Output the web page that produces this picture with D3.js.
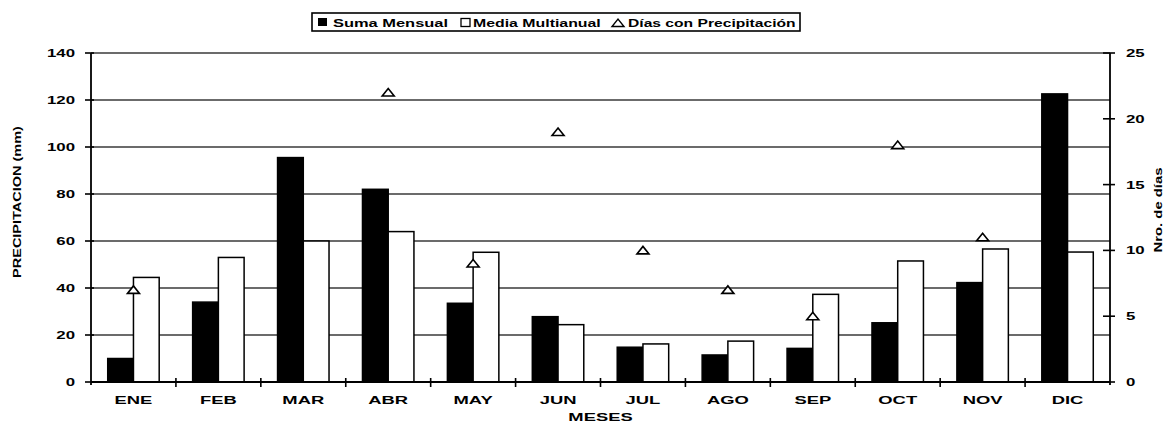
<!DOCTYPE html>
<html><head><meta charset="utf-8">
<script src="https://cdn.jsdelivr.net/npm/d3@7"></script>
<style>
body{margin:0;background:#fff;}
text{font-family:"Liberation Sans",Arial,sans-serif;font-weight:bold;fill:#000;}
</style></head>
<body><svg id="c" width="1167" height="423"></svg>
<script>
const months = ["ENE","FEB","MAR","ABR","MAY","JUN","JUL","AGO","SEP","OCT","NOV","DIC"];
const sumaMensual = [10, 34, 95.5, 82, 33.5, 27.8, 14.8, 11.5, 14.3, 25.2, 42.3, 122.6];
const mediaMultianual = [44.5, 53, 60, 64, 55.2, 24.4, 16.2, 17.4, 37.3, 51.5, 56.6, 55.3];
const diasPrecip = [7, null, null, 22, 9, 19, 10, 7, 5, 18, 11, null];
const leftTicks = [0,20,40,60,80,100,120,140];
const rightTicks = [0,5,10,15,20,25];

const svg = d3.select("#c");
const L = 91, R = 1110, T = 53, B = 382;

// stretched text helper (reference font is horizontally wide)
function stext(parent, x, y, str, size, sx, anchor, rot) {
  return parent.append("text")
    .attr("transform", `translate(${x},${y})` + (rot ? ` rotate(${rot})` : "") + ` scale(${sx},1)`)
    .attr("text-anchor", anchor || "start").attr("font-size", size).text(str);
}

const x0 = d3.scaleBand().domain(months).range([L, R]).padding(0);
const x1 = d3.scaleBand().domain(["s","m"]).range([0, x0.bandwidth()]).paddingInner(0).paddingOuter(0.65);
const y = d3.scaleLinear().domain([0,140]).range([B, T]);
const y2 = d3.scaleLinear().domain([0,25]).range([B, T]);

// gridlines
svg.append("g").selectAll("line").data(leftTicks.slice(1)).join("line")
  .attr("x1", L).attr("x2", R).attr("y1", d=>y(d)).attr("y2", d=>y(d))
  .attr("stroke", "#3a3a3a").attr("stroke-width", 1.7);

// bars
const g = svg.append("g");
g.selectAll(".s").data(months).join("rect")
  .attr("x", d=>x0(d)+x1("s")).attr("width", x1.bandwidth())
  .attr("y", (d,i)=>y(sumaMensual[i])).attr("height", (d,i)=>B-y(sumaMensual[i]))
  .attr("fill","#000").attr("stroke","#000").attr("stroke-width",1.5);
g.selectAll(".m").data(months).join("rect")
  .attr("x", d=>x0(d)+x1("m")).attr("width", x1.bandwidth())
  .attr("y", (d,i)=>y(mediaMultianual[i])).attr("height", (d,i)=>B-y(mediaMultianual[i]))
  .attr("fill","#fff").attr("stroke","#000").attr("stroke-width",1.5);

// triangles
const tri = "M-6,3.5L6,3.5L0,-4Z";
svg.append("g").selectAll("path").data(months.map((m,i)=>({m, v:diasPrecip[i]})).filter(d=>d.v!=null)).join("path")
  .attr("d", tri)
  .attr("transform", d=>`translate(${x0(d.m)+x0.bandwidth()/2},${y2(d.v)})`)
  .attr("fill","#fff").attr("stroke","#000").attr("stroke-width",1.6);

// left axis
const la = svg.append("g");
la.append("line").attr("x1",L).attr("x2",L).attr("y1",T).attr("y2",B+3).attr("stroke","#000").attr("stroke-width",1.8);
la.selectAll(".t").data(leftTicks).join("line").attr("x1",L-6).attr("x2",L+3)
  .attr("y1",d=>y(d)).attr("y2",d=>y(d)).attr("stroke","#000").attr("stroke-width",1.6);
leftTicks.forEach(d => stext(la, L-16, y(d)+4, d, 10.5, 1.6, "end"));

// right axis
const ra = svg.append("g");
ra.append("line").attr("x1",R).attr("x2",R).attr("y1",T).attr("y2",B+3).attr("stroke","#000").attr("stroke-width",1.8);
ra.selectAll(".t").data(rightTicks).join("line").attr("x1",R-7).attr("x2",R+5)
  .attr("y1",d=>y2(d)).attr("y2",d=>y2(d)).attr("stroke","#000").attr("stroke-width",1.6);
rightTicks.forEach(d => stext(ra, R+16, y2(d)+4, d, 10.5, 1.6, "start"));

// x axis
const xa = svg.append("g");
xa.append("line").attr("x1",L).attr("x2",R).attr("y1",B).attr("y2",B).attr("stroke","#000").attr("stroke-width",1.8);
xa.selectAll(".t").data(months.slice(1)).join("line").attr("x1",d=>x0(d)).attr("x2",d=>x0(d))
  .attr("y1",B-4).attr("y2",B+5).attr("stroke","#000").attr("stroke-width",1.6);
months.forEach(d => stext(xa, x0(d)+x0.bandwidth()/2, B+22, d, 11.5, 1.6, "middle"));

// axis titles
stext(svg, (L+R)/2, 420.5, "MESES", 10.5, 1.75, "middle");
stext(svg, 21, 202, "PRECIPITACION (mm)", 10, 1.45, "middle", -90);
stext(svg, 1162, 210, "Nro. de días", 11, 1.35, "middle", -90);

// legend
const lg = svg.append("g");
lg.append("rect").attr("x",312).attr("y",13).attr("width",488).attr("height",18).attr("fill","#fff").attr("stroke","#000").attr("stroke-width",1.6);
lg.append("rect").attr("x",318).attr("y",18).attr("width",9).attr("height",8).attr("fill","#000");
stext(lg, 333, 26.5, "Suma Mensual", 11.5, 1.43, "start");
lg.append("rect").attr("x",461).attr("y",18.5).attr("width",9).attr("height",8).attr("fill","#fff").attr("stroke","#000").attr("stroke-width",1.3);
stext(lg, 473, 26.5, "Media Multianual", 11.5, 1.38, "start");
lg.append("path").attr("d",tri).attr("transform","translate(618,23)").attr("fill","#fff").attr("stroke","#000").attr("stroke-width",1.4);
stext(lg, 628, 26.5, "Días con Precipitación", 11.5, 1.36, "start");
</script></body></html>
